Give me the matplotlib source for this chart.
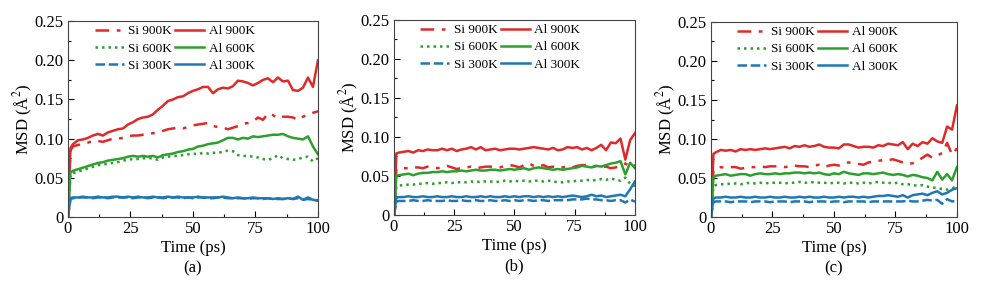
import numpy as np
import matplotlib
matplotlib.use("Agg")
import matplotlib.pyplot as plt
from matplotlib.ticker import MultipleLocator, AutoMinorLocator, FuncFormatter

plt.rcParams['font.family'] = ['Liberation Serif', 'DejaVu Serif']
plt.rcParams['mathtext.fontset'] = 'stix'

# time axis (ps)
time_ps = [0, 1] + list(range(2, 101, 2))

# ---------------- panel (a) ----------------
a_al900 = [0, 0.088, 0.093, 0.098, 0.099, 0.101, 0.104, 0.106, 0.104, 0.108, 0.110, 0.112, 0.113,
           0.118, 0.121, 0.125, 0.127, 0.128, 0.131, 0.137, 0.142, 0.148, 0.150, 0.153, 0.154, 0.158,
           0.161, 0.163, 0.166, 0.166, 0.158, 0.163, 0.165, 0.164, 0.167, 0.174, 0.173, 0.171, 0.168,
           0.171, 0.175, 0.177, 0.172, 0.178, 0.173, 0.174, 0.162, 0.161, 0.165, 0.178, 0.166, 0.200]
a_si900 = [0, 0.085, 0.090, 0.092, 0.093, 0.095, 0.097, 0.097, 0.096, 0.098, 0.100, 0.100, 0.101,
           0.103, 0.104, 0.104, 0.105, 0.106, 0.107, 0.108, 0.110, 0.112, 0.113, 0.114, 0.113, 0.115,
           0.117, 0.118, 0.119, 0.120, 0.116, 0.115, 0.114, 0.112, 0.114, 0.116, 0.119, 0.120, 0.122,
           0.127, 0.124, 0.132, 0.130, 0.126, 0.128, 0.128, 0.127, 0.124, 0.128, 0.131, 0.133, 0.135]
a_al600 = [0, 0.057, 0.059, 0.061, 0.063, 0.065, 0.067, 0.069, 0.070, 0.072, 0.073, 0.074, 0.075,
           0.077, 0.078, 0.077, 0.078, 0.077, 0.078, 0.076, 0.079, 0.080, 0.081, 0.083, 0.084, 0.086,
           0.087, 0.090, 0.091, 0.093, 0.094, 0.095, 0.098, 0.101, 0.101, 0.099, 0.101, 0.100, 0.103,
           0.102, 0.103, 0.104, 0.105, 0.105, 0.106, 0.103, 0.101, 0.100, 0.099, 0.103, 0.090, 0.080]
a_si600 = [0, 0.054, 0.056, 0.058, 0.060, 0.062, 0.064, 0.066, 0.067, 0.068, 0.069, 0.070, 0.072,
           0.073, 0.074, 0.074, 0.075, 0.075, 0.075, 0.073, 0.076, 0.077, 0.078, 0.078, 0.079, 0.080,
           0.081, 0.080, 0.082, 0.081, 0.082, 0.082, 0.083, 0.085, 0.084, 0.079, 0.078, 0.078, 0.077,
           0.076, 0.074, 0.073, 0.075, 0.079, 0.075, 0.074, 0.073, 0.074, 0.076, 0.077, 0.071, 0.075]
a_al300 = [0, 0.024, 0.025, 0.025, 0.026, 0.025, 0.025, 0.026, 0.025, 0.025, 0.026, 0.026, 0.025,
           0.026, 0.025, 0.026, 0.025, 0.025, 0.026, 0.025, 0.025, 0.026, 0.025, 0.026, 0.025, 0.025,
           0.025, 0.026, 0.025, 0.025, 0.025, 0.025, 0.026, 0.025, 0.024, 0.025, 0.024, 0.024, 0.025,
           0.024, 0.024, 0.024, 0.023, 0.024, 0.023, 0.024, 0.023, 0.026, 0.022, 0.025, 0.022, 0.021]
a_si300 = [0, 0.023, 0.024, 0.025, 0.025, 0.025, 0.024, 0.025, 0.025, 0.024, 0.025, 0.025, 0.025,
           0.025, 0.024, 0.025, 0.025, 0.024, 0.025, 0.025, 0.024, 0.025, 0.025, 0.025, 0.024, 0.025,
           0.024, 0.025, 0.025, 0.024, 0.024, 0.025, 0.025, 0.024, 0.024, 0.024, 0.024, 0.023, 0.024,
           0.024, 0.023, 0.024, 0.023, 0.023, 0.023, 0.024, 0.023, 0.024, 0.022, 0.023, 0.022, 0.021]

# ---------------- panel (b) ----------------
b_al900 = [0, 0.079, 0.080, 0.081, 0.082, 0.080, 0.083, 0.082, 0.084, 0.083, 0.083, 0.085, 0.083,
           0.085, 0.082, 0.084, 0.085, 0.087, 0.084, 0.087, 0.083, 0.084, 0.085, 0.083, 0.084, 0.085,
           0.085, 0.084, 0.085, 0.086, 0.087, 0.086, 0.085, 0.084, 0.086, 0.083, 0.084, 0.087, 0.086,
           0.087, 0.084, 0.086, 0.083, 0.086, 0.090, 0.083, 0.093, 0.092, 0.098, 0.071, 0.096, 0.105]
b_si900 = [0, 0.059, 0.060, 0.060, 0.060, 0.061, 0.061, 0.060, 0.062, 0.061, 0.060, 0.061, 0.063,
           0.061, 0.059, 0.060, 0.061, 0.062, 0.060, 0.061, 0.062, 0.062, 0.061, 0.061, 0.063, 0.064,
           0.063, 0.061, 0.064, 0.066, 0.063, 0.062, 0.064, 0.061, 0.062, 0.060, 0.061, 0.062, 0.061,
           0.063, 0.064, 0.064, 0.061, 0.063, 0.062, 0.062, 0.060, 0.061, 0.063, 0.066, 0.062, 0.064]
b_al600 = [0, 0.050, 0.051, 0.052, 0.053, 0.051, 0.053, 0.054, 0.054, 0.055, 0.055, 0.056, 0.055,
           0.056, 0.056, 0.057, 0.056, 0.057, 0.058, 0.057, 0.057, 0.058, 0.058, 0.057, 0.058, 0.059,
           0.058, 0.059, 0.060, 0.058, 0.060, 0.061, 0.060, 0.059, 0.058, 0.059, 0.058, 0.059, 0.060,
           0.061, 0.063, 0.062, 0.061, 0.063, 0.062, 0.064, 0.066, 0.067, 0.069, 0.052, 0.067, 0.060]
b_si600 = [0, 0.037, 0.038, 0.038, 0.039, 0.039, 0.040, 0.040, 0.041, 0.040, 0.041, 0.041, 0.042,
           0.041, 0.042, 0.042, 0.042, 0.043, 0.042, 0.043, 0.043, 0.043, 0.042, 0.043, 0.044, 0.043,
           0.044, 0.043, 0.044, 0.043, 0.044, 0.044, 0.043, 0.044, 0.043, 0.042, 0.042, 0.043, 0.043,
           0.044, 0.044, 0.045, 0.044, 0.045, 0.046, 0.045, 0.047, 0.045, 0.044, 0.048, 0.040, 0.037]
b_al300 = [0, 0.022, 0.023, 0.023, 0.024, 0.023, 0.023, 0.024, 0.023, 0.023, 0.024, 0.023, 0.023,
           0.024, 0.023, 0.023, 0.024, 0.023, 0.023, 0.024, 0.023, 0.024, 0.023, 0.023, 0.024, 0.023,
           0.024, 0.023, 0.024, 0.024, 0.023, 0.024, 0.023, 0.024, 0.023, 0.024, 0.023, 0.024, 0.025,
           0.024, 0.023, 0.024, 0.026, 0.024, 0.025, 0.023, 0.024, 0.025, 0.026, 0.024, 0.033, 0.043]
b_si300 = [0, 0.017, 0.018, 0.018, 0.018, 0.019, 0.018, 0.018, 0.019, 0.018, 0.018, 0.018, 0.019,
           0.018, 0.018, 0.019, 0.018, 0.018, 0.019, 0.018, 0.018, 0.019, 0.018, 0.018, 0.019, 0.018,
           0.019, 0.018, 0.019, 0.019, 0.018, 0.019, 0.019, 0.018, 0.019, 0.019, 0.019, 0.019, 0.020,
           0.020, 0.020, 0.021, 0.020, 0.020, 0.019, 0.019, 0.018, 0.019, 0.019, 0.016, 0.020, 0.017]

# ---------------- panel (c) ----------------
c_al900 = [0, 0.081, 0.083, 0.086, 0.085, 0.086, 0.084, 0.087, 0.086, 0.087, 0.086, 0.087, 0.088,
           0.087, 0.088, 0.089, 0.090, 0.088, 0.091, 0.090, 0.092, 0.090, 0.091, 0.093, 0.090, 0.089,
           0.089, 0.088, 0.093, 0.093, 0.091, 0.089, 0.090, 0.090, 0.089, 0.092, 0.091, 0.094, 0.093,
           0.092, 0.096, 0.087, 0.094, 0.091, 0.096, 0.094, 0.101, 0.097, 0.095, 0.116, 0.112, 0.143]
c_si900 = [0, 0.060, 0.062, 0.064, 0.063, 0.064, 0.064, 0.062, 0.063, 0.064, 0.064, 0.065, 0.064,
           0.065, 0.065, 0.065, 0.064, 0.065, 0.066, 0.065, 0.065, 0.064, 0.066, 0.067, 0.064, 0.066,
           0.067, 0.066, 0.069, 0.070, 0.069, 0.068, 0.067, 0.070, 0.071, 0.072, 0.073, 0.073, 0.074,
           0.072, 0.070, 0.068, 0.069, 0.072, 0.076, 0.080, 0.076, 0.079, 0.082, 0.095, 0.080, 0.088]
c_al600 = [0, 0.051, 0.053, 0.054, 0.055, 0.053, 0.054, 0.055, 0.055, 0.053, 0.055, 0.056, 0.055,
           0.055, 0.056, 0.055, 0.056, 0.056, 0.057, 0.057, 0.056, 0.057, 0.056, 0.057, 0.055, 0.054,
           0.056, 0.055, 0.058, 0.056, 0.055, 0.054, 0.056, 0.056, 0.055, 0.056, 0.057, 0.055, 0.054,
           0.055, 0.054, 0.052, 0.054, 0.053, 0.051, 0.050, 0.047, 0.058, 0.048, 0.055, 0.047, 0.064]
c_si600 = [0, 0.040, 0.041, 0.042, 0.042, 0.043, 0.043, 0.042, 0.043, 0.044, 0.043, 0.044, 0.043,
           0.044, 0.044, 0.044, 0.043, 0.044, 0.044, 0.045, 0.044, 0.044, 0.045, 0.044, 0.044, 0.043,
           0.044, 0.044, 0.043, 0.044, 0.044, 0.043, 0.044, 0.043, 0.044, 0.045, 0.044, 0.044, 0.043,
           0.044, 0.042, 0.042, 0.041, 0.040, 0.041, 0.039, 0.038, 0.037, 0.036, 0.035, 0.037, 0.039]
c_al300 = [0, 0.024, 0.025, 0.025, 0.026, 0.025, 0.025, 0.026, 0.025, 0.025, 0.026, 0.025, 0.025,
           0.026, 0.025, 0.025, 0.026, 0.025, 0.025, 0.026, 0.025, 0.026, 0.025, 0.025, 0.026, 0.025,
           0.025, 0.026, 0.025, 0.026, 0.026, 0.025, 0.026, 0.025, 0.026, 0.027, 0.027, 0.028, 0.027,
           0.026, 0.028, 0.025, 0.028, 0.029, 0.030, 0.028, 0.031, 0.033, 0.029, 0.031, 0.035, 0.037]
c_si300 = [0, 0.019, 0.020, 0.020, 0.020, 0.019, 0.020, 0.020, 0.020, 0.019, 0.020, 0.020, 0.020,
           0.019, 0.020, 0.020, 0.020, 0.019, 0.020, 0.020, 0.020, 0.019, 0.020, 0.020, 0.020, 0.019,
           0.020, 0.020, 0.019, 0.020, 0.020, 0.020, 0.020, 0.019, 0.020, 0.020, 0.020, 0.020, 0.020,
           0.020, 0.020, 0.021, 0.020, 0.020, 0.021, 0.022, 0.021, 0.022, 0.017, 0.023, 0.020, 0.021]

panel_labels = ['(a)', '(b)', '(c)']
series_labels = ['Si 900K', 'Si 600K', 'Si 300K', 'Al 900K', 'Al 600K', 'Al 300K']
panels = [
    [a_si900, a_si600, a_si300, a_al900, a_al600, a_al300],
    [b_si900, b_si600, b_si300, b_al900, b_al600, b_al300],
    [c_si900, c_si600, c_si300, c_al900, c_al600, c_al300],
]

RED, GREEN, BLUE = '#df2a2a', '#2ca02c', '#1f77b4'
styles = [
    dict(color=RED, dashes=(5.5, 3, 1.5, 3)),
    dict(color=GREEN, dashes=(1, 1.6)),
    dict(color=BLUE, dashes=(3.8, 1.5)),
    dict(color=RED, linestyle='-'),
    dict(color=GREEN, linestyle='-'),
    dict(color=BLUE, linestyle='-'),
]

fig = plt.figure(figsize=(9.82, 2.89), dpi=100)
positions = [
    [0.0692, 0.249, 0.2546, 0.678],
    [0.4012, 0.256, 0.2454, 0.675],
    [0.7240, 0.249, 0.2505, 0.675],
]

t = np.array(time_ps)
for pos, data, plab in zip(positions, panels, panel_labels):
    ax = fig.add_axes(pos)
    handles = []
    for i in range(6):
        ln, = ax.plot(t, np.array(data[i]), linewidth=1.8, label=series_labels[i], **styles[i])
        handles.append(ln)
    ax.set_xlim(0, 100)
    ax.set_ylim(0, 0.25)
    ax.xaxis.set_major_locator(MultipleLocator(25))
    ax.xaxis.set_minor_locator(AutoMinorLocator(2))
    ax.yaxis.set_major_locator(MultipleLocator(0.05))
    ax.yaxis.set_minor_locator(AutoMinorLocator(2))
    ax.yaxis.set_major_formatter(FuncFormatter(lambda v, p: '0' if abs(v) < 1e-9 else f'{v:.2f}'))
    ax.tick_params(which='both', direction='in', top=False, right=False, labelsize=12, pad=3)
    ax.tick_params(which='major', length=4, width=0.8)
    ax.tick_params(which='minor', length=2.5, width=0.8)
    for s in ax.spines.values():
        s.set_color('#444444')
        s.set_linewidth(0.8)
    ax.set_xlabel('Time (ps)', fontsize=12, labelpad=2)
    ax.set_ylabel('MSD (Å$^{2}$)', fontsize=12, labelpad=0)
    ax.text(0.5, -0.262, plab, transform=ax.transAxes, ha='center', va='center', fontsize=12)
    ax.legend(handles=handles, ncol=2, loc='upper left', bbox_to_anchor=(0.075, 1.02),
              frameon=False, fontsize=9.5, handlelength=2.2, handletextpad=0.35,
              columnspacing=0.25, labelspacing=0.38, borderaxespad=0.2)

fig.savefig('out.png', dpi=100)
